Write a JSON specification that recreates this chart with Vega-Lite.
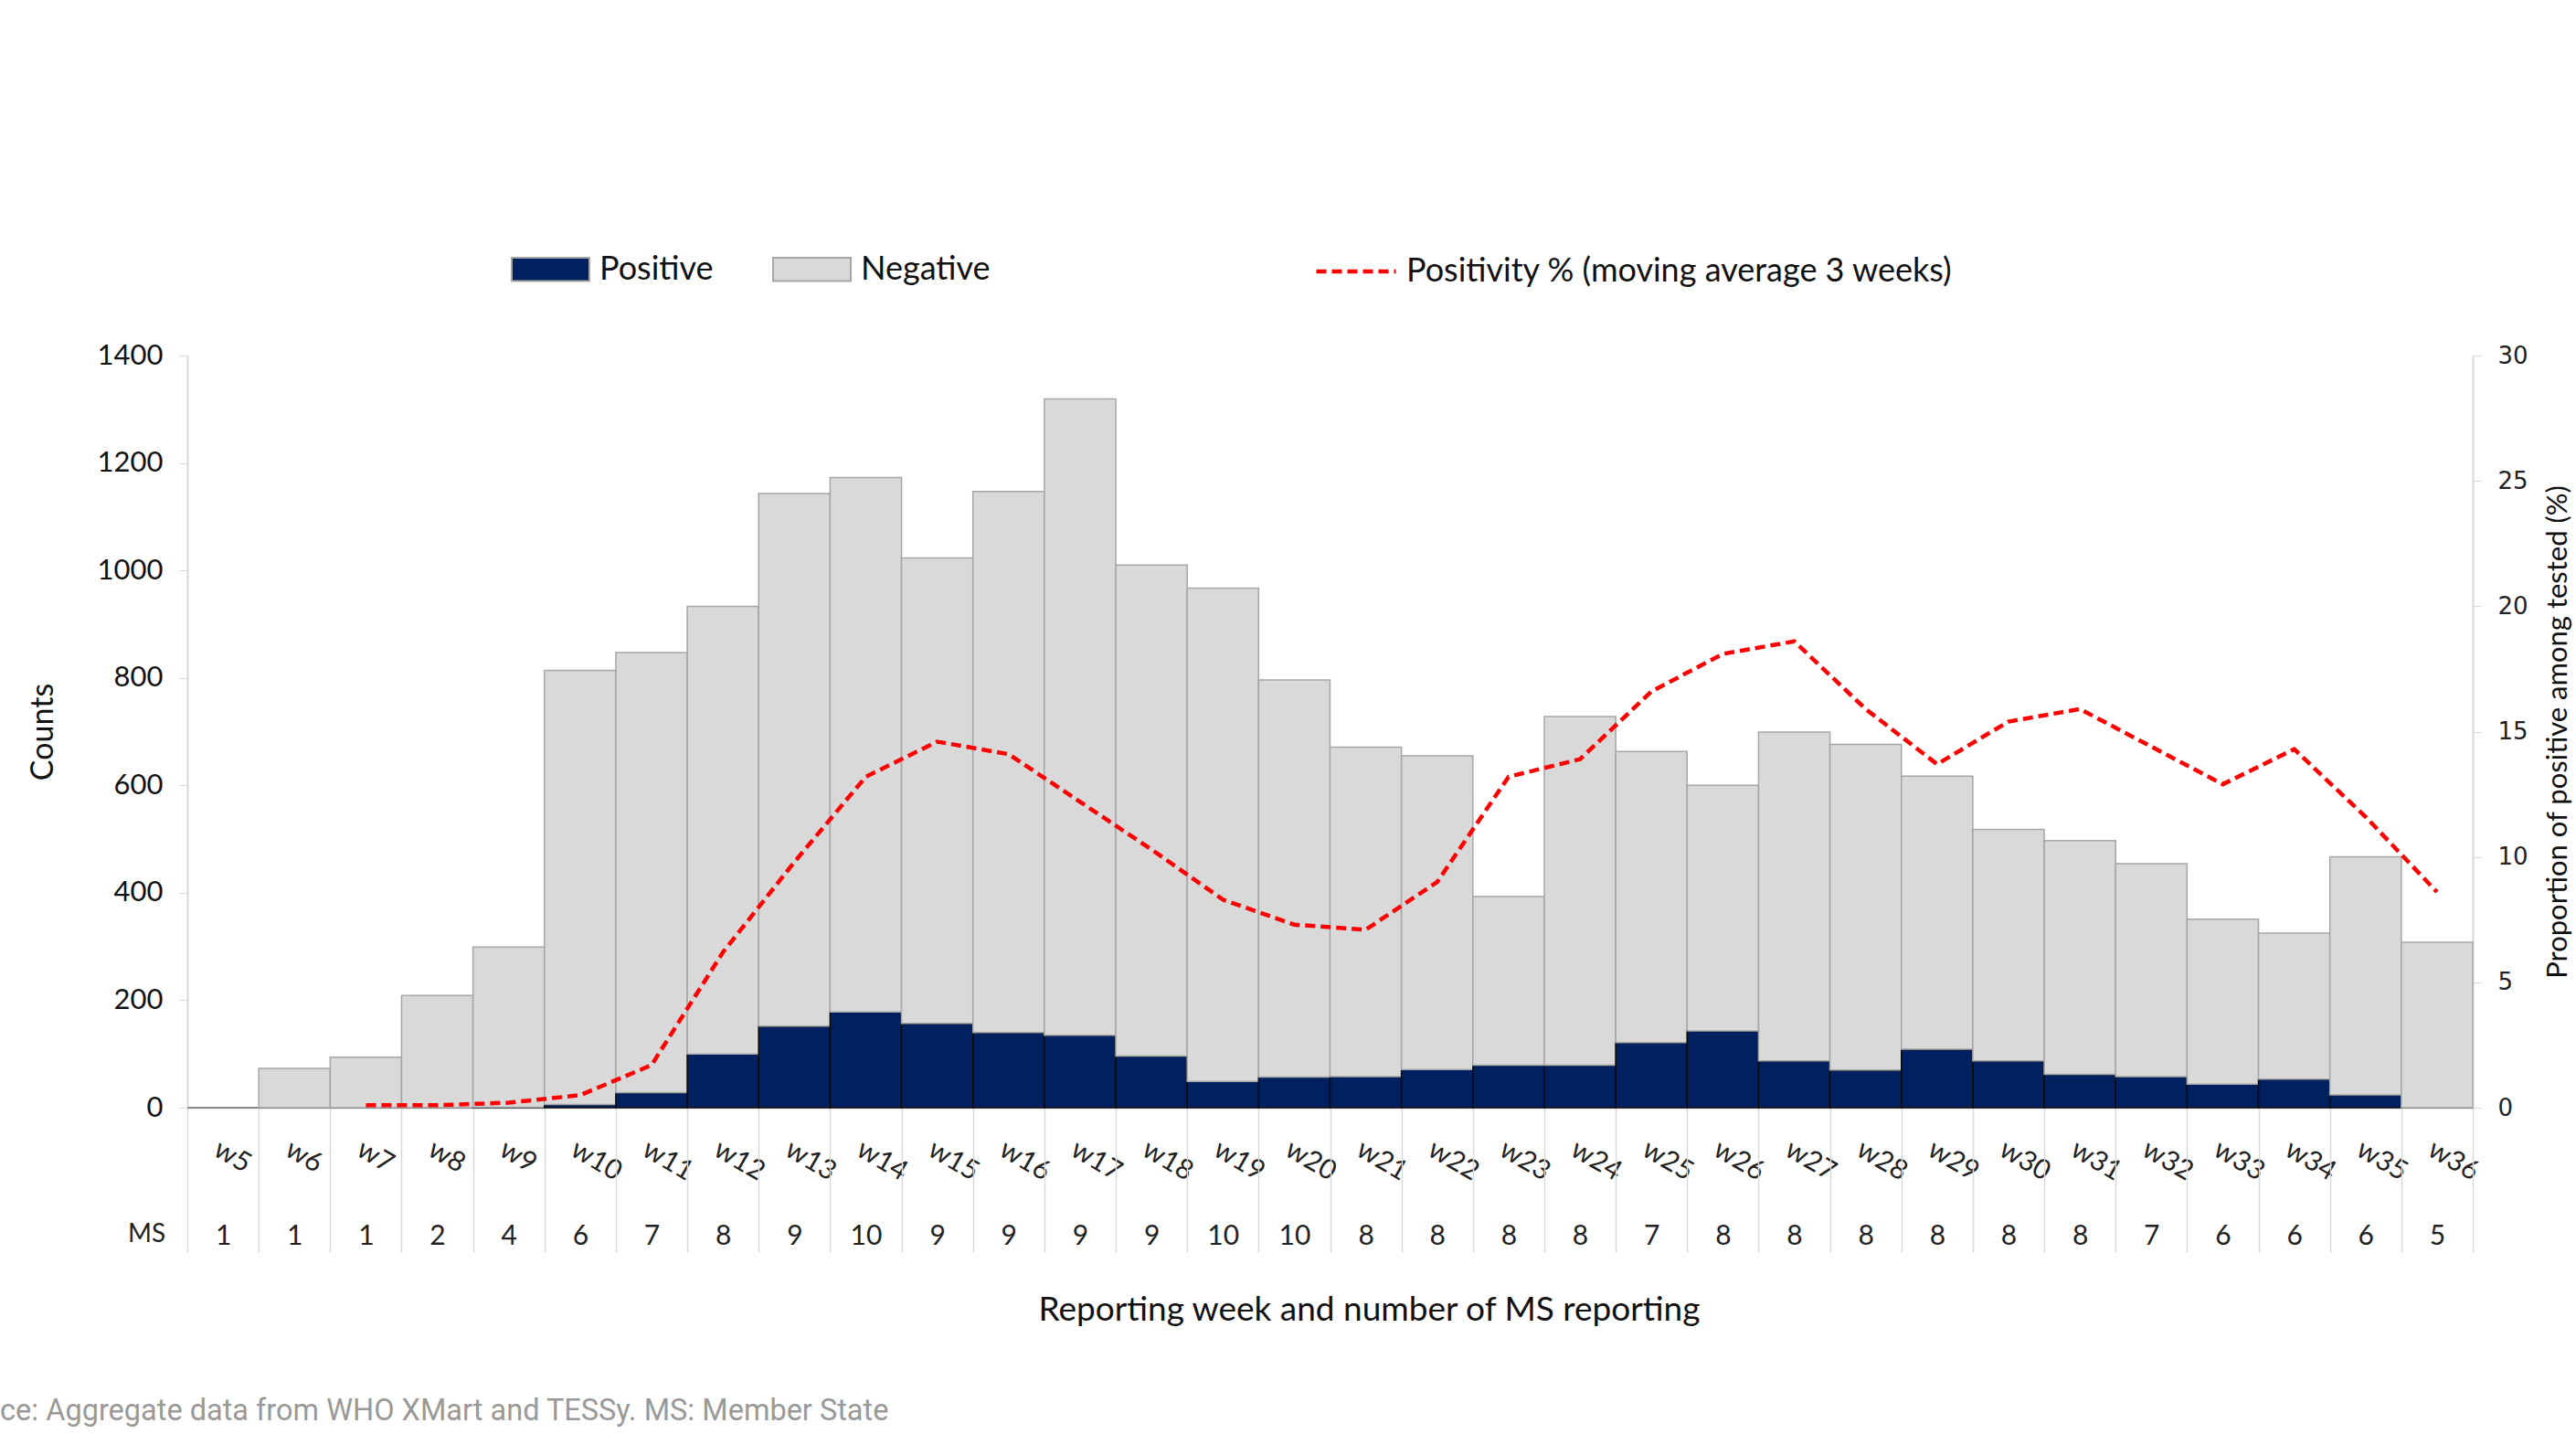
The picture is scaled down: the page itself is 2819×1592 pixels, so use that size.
{
  "$schema": "https://vega.github.io/schema/vega-lite/v6.json",
  "autosize": "none",
  "width": 2501,
  "height": 823,
  "padding": {"left": 205, "top": 389, "right": 113, "bottom": 380},
  "background": "white",
  "config": {"view": {"stroke": null}, "font": "Lato"},
  "title": {
    "text": "ce:  Aggregate data from WHO XMart and TESSy. MS: Member State",
    "orient": "bottom", "anchor": "start", "frame": "group", "dx": -205, "offset": 77,
    "font": "Roboto", "fontSize": 32.5, "fontWeight": "normal", "color": "#999999"
  },
  "data": {
    "values": [
      {"key": "w5|1", "Positive": 0, "Negative": 0, "pct": null},
      {"key": "w6|1", "Positive": 0, "Negative": 73, "pct": null},
      {"key": "w7|1", "Positive": 0, "Negative": 94, "pct": 0.1},
      {"key": "w8|2", "Positive": 0, "Negative": 209, "pct": 0.1},
      {"key": "w9|4", "Positive": 1, "Negative": 298, "pct": 0.2},
      {"key": "w10|6", "Positive": 6, "Negative": 808, "pct": 0.5},
      {"key": "w11|7", "Positive": 28, "Negative": 819, "pct": 1.7},
      {"key": "w12|8", "Positive": 100, "Negative": 833, "pct": 6.2},
      {"key": "w13|9", "Positive": 152, "Negative": 991, "pct": 9.8},
      {"key": "w14|10", "Positive": 178, "Negative": 995, "pct": 13.2},
      {"key": "w15|9", "Positive": 157, "Negative": 866, "pct": 14.6},
      {"key": "w16|9", "Positive": 140, "Negative": 1007, "pct": 14.1},
      {"key": "w17|9", "Positive": 135, "Negative": 1184, "pct": 12.2},
      {"key": "w18|9", "Positive": 96, "Negative": 914, "pct": 10.3},
      {"key": "w19|10", "Positive": 49, "Negative": 918, "pct": 8.3},
      {"key": "w20|10", "Positive": 57, "Negative": 739, "pct": 7.3},
      {"key": "w21|8", "Positive": 58, "Negative": 613, "pct": 7.1},
      {"key": "w22|8", "Positive": 71, "Negative": 584, "pct": 9.0},
      {"key": "w23|8", "Positive": 79, "Negative": 314, "pct": 13.2},
      {"key": "w24|8", "Positive": 79, "Negative": 649, "pct": 13.9},
      {"key": "w25|7", "Positive": 121, "Negative": 542, "pct": 16.6},
      {"key": "w26|8", "Positive": 143, "Negative": 457, "pct": 18.1},
      {"key": "w27|8", "Positive": 87, "Negative": 612, "pct": 18.6},
      {"key": "w28|8", "Positive": 70, "Negative": 606, "pct": 15.9},
      {"key": "w29|8", "Positive": 109, "Negative": 508, "pct": 13.7},
      {"key": "w30|8", "Positive": 87, "Negative": 431, "pct": 15.4},
      {"key": "w31|8", "Positive": 62, "Negative": 435, "pct": 15.9},
      {"key": "w32|7", "Positive": 58, "Negative": 396, "pct": 14.4},
      {"key": "w33|6", "Positive": 44, "Negative": 307, "pct": 12.9},
      {"key": "w34|6", "Positive": 53, "Negative": 272, "pct": 14.3},
      {"key": "w35|6", "Positive": 24, "Negative": 443, "pct": 11.6},
      {"key": "w36|5", "Positive": 0, "Negative": 308, "pct": 8.6}
    ]
  },
  "resolve": {"scale": {"y": "independent"}, "axis": {"x": "independent"}},
  "layer": [
    {
      "transform": [{"fold": ["Positive", "Negative"], "as": ["status", "count"]}],
      "mark": {"type": "bar", "strokeWidth": 1.5},
      "encoding": {
        "x": {
          "field": "key", "type": "nominal", "sort": null,
          "scale": {"paddingInner": 0, "paddingOuter": 0},
          "axis": {
            "labelExpr": "split(datum.label, '|')[0]",
            "labelAngle": 30, "labelAlign": "left", "labelBaseline": "top",
            "labelPadding": 30, "labelFontSize": 30, "labelColor": "#222222",
            "ticks": false, "domainColor": "#D9D9D9", "domainWidth": 2,
            "title": "Reporting week and number of MS reporting",
            "titleFontSize": 37, "titleFontWeight": "normal", "titleColor": "#111111",
            "titleX": 1293, "titleY": 221, "titleBaseline": "middle", "titleAlign": "center"
          }
        },
        "y": {
          "field": "count", "type": "quantitative", "stack": "zero",
          "scale": {"domain": [0, 1400], "nice": false},
          "axis": {
            "title": "Counts", "values": [0, 200, 400, 600, 800, 1000, 1200, 1400], "format": "d",
            "labelFontSize": 31, "labelPadding": 18, "labelColor": "#111111",
            "tickSize": 9, "tickColor": "#D9D9D9", "domainColor": "#D9D9D9", "domainWidth": 2,
            "grid": false, "titleFontSize": 34, "titleFontWeight": "normal", "titleColor": "#111111",
            "titlePadding": 42
          }
        },
        "order": {"field": "status", "sort": "descending"},
        "fill": {
          "field": "status", "type": "nominal",
          "scale": {"domain": ["Positive", "Negative"], "range": ["#002060", "#D9D9D9"]},
          "legend": {
            "orient": "none", "legendX": 354, "legendY": -138, "direction": "horizontal",
            "title": null, "symbolType": "M-1,-0.3H1V0.3H-1Z", "symbolSize": 7225,
            "symbolStrokeWidth": 2, "labelFontSize": 36, "labelOffset": 10, "labelLimit": 0,
            "columnPadding": 61, "labelColor": "#111111", "padding": 0,
            "symbolOpacity": 1,
            "encode": {"symbols": {"update": {"stroke": [{"test": "datum.label === 'Positive'", "value": "#000000"}, {"value": "#A0A0A0"}]}}}
          }
        },
        "stroke": {
          "condition": {"test": "datum.status === 'Positive'", "value": "#0a0a0a"},
          "value": "#A6A6A6"
        }
      }
    },
    {
      "mark": {"type": "line", "strokeWidth": 4.5, "strokeDash": [11, 6], "interpolate": "linear"},
      "encoding": {
        "x": {
          "field": "key", "type": "nominal", "sort": null,
          "axis": {
            "orient": "bottom",
            "labelExpr": "split(datum.label, '|')[1]",
            "labelAngle": 0, "labelAlign": "center", "labelBaseline": "top",
            "tickBand": "extent", "tickSize": 158, "tickColor": "#D9D9D9", "tickWidth": 1.5,
            "labelPadding": -33, "labelFontSize": 30, "labelColor": "#222222",
            "domain": false,
            "title": "MS", "titleFontSize": 28, "titleFontWeight": "normal", "titleColor": "#222222",
            "titleX": -45, "titleY": 138, "titleBaseline": "middle", "titleAlign": "center", "titleAngle": 0
          }
        },
        "y": {
          "field": "pct", "type": "quantitative",
          "scale": {"domain": [0, 30], "nice": false},
          "axis": {
            "orient": "right", "values": [0, 5, 10, 15, 20, 25, 30],
            "labelFont": "DejaVu Sans", "labelFontSize": 26, "labelPadding": 18, "labelColor": "#222222",
            "tickSize": 9, "tickColor": "#D9D9D9", "domainColor": "#D9D9D9", "domainWidth": 2,
            "grid": false,
            "title": "Proportion of positive among tested (%)", "titleAngle": 270,
            "titleFontSize": 31, "titleFontWeight": "normal", "titleColor": "#111111", "titlePadding": 49
          }
        },
        "stroke": {
          "datum": "Positivity % (moving average 3 weeks)",
          "scale": {"range": ["#FF0000"]},
          "legend": {
            "orient": "none", "legendX": 1233, "legendY": -138, "title": null,
            "symbolType": "stroke", "symbolSize": 7569, "symbolStrokeWidth": 4.5,
            "symbolDash": [11, 6], "labelFontSize": 36, "labelOffset": 9, "labelLimit": 0, "padding": 0,
            "labelColor": "#111111"
          }
        }
      }
    }
  ]
}
